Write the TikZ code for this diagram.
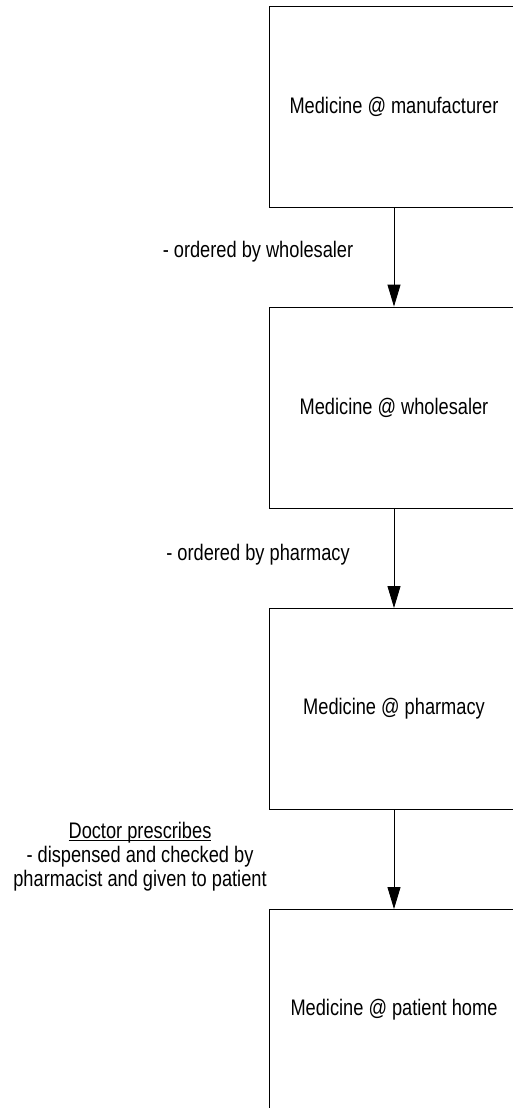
\documentclass[tikz,border=0pt]{standalone}
\usepackage{fontspec}
\setmainfont{Liberation Sans}
\usetikzlibrary{arrows.meta}
\newcommand\narrowtxt[1]{\scalebox{0.81}[1]{#1}}
\tikzset{
  stagebox/.style={draw=black, line width=0.9pt, minimum width=250pt, minimum height=201pt, inner sep=0pt,
    font=\fontsize{22.5}{24}\selectfont},
  flowarrow/.style={draw=black, line width=0.9pt, -{Triangle[length=22pt,width=13pt]}},
  lbl/.style={align=center, inner sep=0pt, font=\fontsize{22.5}{24}\selectfont}
}
\begin{document}
\begin{tikzpicture}[x=1pt,y=-1pt]
\useasboundingbox (0,0) rectangle (513,1108);
\clip (0,0) rectangle (513,1108);
\node[stagebox] (b1) at (394,106.5) {\narrowtxt{Medicine @ manufacturer}};
\node[stagebox] (b2) at (394,407.5) {\narrowtxt{Medicine @ wholesaler}};
\node[stagebox] (b3) at (394,709) {\narrowtxt{Medicine @ pharmacy}};
\node[stagebox] (b4) at (394,1010) {\narrowtxt{Medicine @ patient home}};
\draw[flowarrow] (b1) -- (b2);
\draw[flowarrow] (b2) -- (b3);
\draw[flowarrow] (b3) -- (b4);
\node[lbl] (l1) at (258,252) {\narrowtxt{- ordered by wholesaler}};
\node[lbl] (l2) at (258,555) {\narrowtxt{- ordered by pharmacy}};
\node[lbl] (l3) at (140,865) {\narrowtxt{\underline{\smash{Doctor prescribes}}}\\\narrowtxt{- dispensed and checked by}\\\narrowtxt{pharmacist and given to patient}};
\end{tikzpicture}
\end{document}
